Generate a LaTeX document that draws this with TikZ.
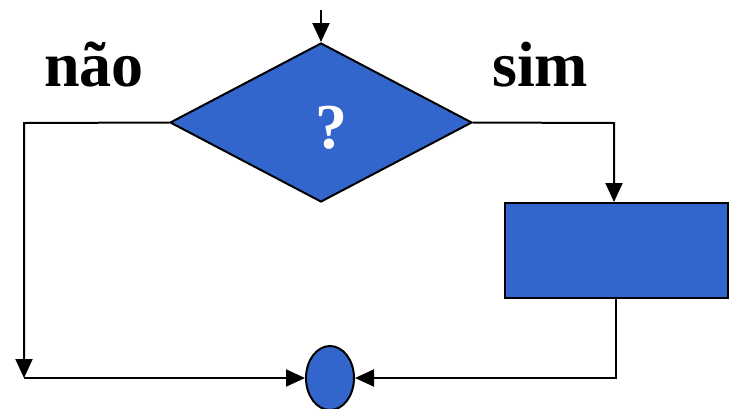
\documentclass[tikz,border=0pt]{standalone}
\usepackage{fontspec}
\setmainfont{Liberation Serif}
\usetikzlibrary{shapes.geometric,arrows.meta}
\definecolor{fillblue}{HTML}{3366CC}
\tikzset{
  conn/.style={line width=2pt,arrows={-Triangle[length=19pt,width=17pt]}},
  plain/.style={line width=2pt},
  shapeblue/.style={fill=fillblue,draw=black,line width=2pt},
  lbl/.style={font=\bfseries\fontsize{64}{64}\selectfont}
}
\begin{document}
\begin{tikzpicture}[x=1pt,y=-1pt]
\useasboundingbox (0,0) rectangle (731,408);
\coordinate (start) at (321,10);
\node[shapeblue,diamond,minimum width=302pt,minimum height=159pt,inner sep=0pt,aspect=1.9] (dec) at (321,122.5) {};
\node[font=\bfseries\fontsize{64}{64}\selectfont,text=white] (q) at (331,128) {?};
\node[shapeblue,rectangle,minimum width=223pt,minimum height=95pt,inner sep=0pt] (proc) at (616.5,250.5) {};
\node[shapeblue,ellipse,minimum width=48pt,minimum height=64pt,inner sep=0pt] (join) at (330,378) {};
\node[lbl,anchor=base west,inner sep=0pt] (nao) at (44,86) {não};
\node[lbl,anchor=base west,inner sep=0pt] (sim) at (492,86) {sim};
\coordinate (lc) at (24,123);
\coordinate (lb) at (24,378);
\coordinate (rc) at (614,123);
\coordinate (rb) at (616,378);
\draw[conn] (start) -- (dec.north);
\draw[plain] (dec.west) -- (lc) -- (24,362);
\draw[conn] (24,300) -- (lb);
\draw[conn] (lb) -- (join.west);
\draw[conn] (dec.east) -- (rc) -- (rc |- proc.north);
\draw[conn] (proc.south -| rb) -- (rb) -- (join.east);
\end{tikzpicture}
\end{document}
